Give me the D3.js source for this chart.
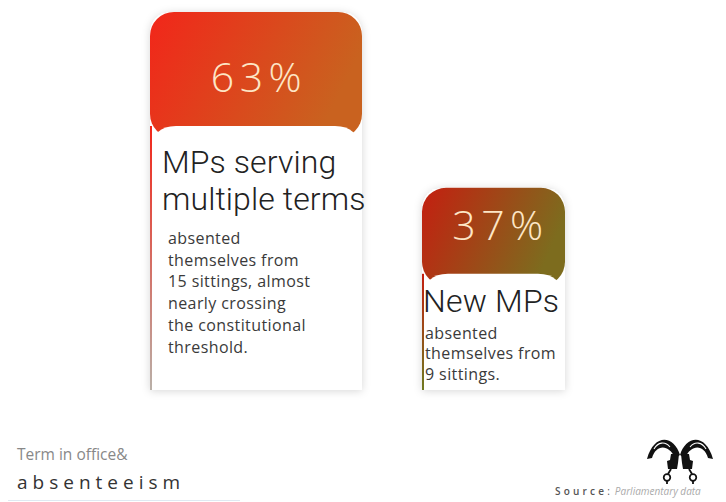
<!DOCTYPE html>
<meta charset="utf-8">
<style>
body { margin: 0; background: #fff; }
svg { display: block; font-family: "Open Sans", "Noto Sans", sans-serif; }
</style>
<svg width="726" height="502"></svg>
<script src="https://d3js.org/d3.v7.min.js"></script>
<script>

// share of absenteeism by term in office
var categories = ["multiple", "new"];
var shares = [63, 37];
var titles = [["MPs serving", "multiple terms"], ["New MPs"]];
var notes = [
	["absented", "themselves from", "15 sittings, almost", "nearly crossing", "the constitutional", "threshold."],
	["absented", "themselves from", "9 sittings."]
];
var gradients = [["#f2261a", "#c9621f"], ["#c41f10", "#7d6c1e"]];

var svg = d3.select("svg"),
	width = +svg.attr("width"),
	height = +svg.attr("height");

var bottom = 390;

// card top follows the value
var y = d3.scaleLinear()
	.domain([0, 63])
	.range([438, 12]);

var w = d3.scaleLinear()
	.domain([37, 63])
	.range([143, 212]);

var head = d3.scaleLinear()
	.domain([37, 63])
	.range([86, 114]);

var defs = svg.append("defs");

var shadow = defs.append("filter")
	.attr("id", "shadow")
	.attr("x", "-20%").attr("y", "-20%")
	.attr("width", "140%").attr("height", "140%");
shadow.append("feDropShadow")
	.attr("dx", 0).attr("dy", 1)
	.attr("stdDeviation", 4)
	.attr("flood-color", "#000")
	.attr("flood-opacity", 0.16);

gradients.forEach(function(c, i) {
	var lg = defs.append("linearGradient")
		.attr("id", "head" + i)
		.attr("x1", "0%").attr("x2", "100%")
		.attr("y1", "0%").attr("y2", "30%");
	lg.append("stop").attr("offset", "0%").attr("stop-color", c[0]);
	lg.append("stop").attr("offset", "100%").attr("stop-color", c[1]);

	var vg = defs.append("linearGradient")
		.attr("id", "edge" + i)
		.attr("x1", "0%").attr("x2", "0%")
		.attr("y1", "0%").attr("y2", "100%");
	vg.append("stop").attr("offset", "0%").attr("stop-color", c[0]);
	vg.append("stop").attr("offset", "100%").attr("stop-color", i ? "#6f7a20" : "#b9b0a8");
});

// x positions: cards sit side by side with a gap
var xs = [];
shares.reduce(function(acc, v) { xs.push(acc); return acc + w(v) + 60; }, 150);

function topRounded(x0, y0, x1, y1, r) {
	return "M" + x0 + "," + y1 +
		"V" + (y0 + r) +
		"Q" + x0 + "," + y0 + " " + (x0 + r) + "," + y0 +
		"H" + (x1 - r) +
		"Q" + x1 + "," + y0 + " " + x1 + "," + (y0 + r) +
		"V" + y1 + "Z";
}

var card = svg.selectAll("g.card")
	.data(shares.map(function(v, i) {
		return {key: categories[i], value: v, i: i, x: xs[i], w: w(v), top: y(v), head: head(v)};
	}))
	.enter().append("g")
	.attr("class", "card");

// soft body behind
card.append("path")
	.attr("filter", "url(#shadow)")
	.attr("fill", "#fff")
	.attr("d", function(d) { return topRounded(d.x, d.top, d.x + d.w, bottom, 24); });

card.append("rect")
	.attr("x", function(d) { return d.x; })
	.attr("y", function(d) { return d.top; })
	.attr("width", function(d) { return d.w; })
	.attr("height", function(d) { return d.head + 12; })
	.attr("rx", 24)
	.attr("fill", function(d) { return "url(#head" + d.i + ")"; });

card.append("rect")
	.attr("x", function(d) { return d.x; })
	.attr("y", function(d) { return d.top + d.head; })
	.attr("width", 2)
	.attr("height", function(d) { return bottom - d.top - d.head; })
	.attr("fill", function(d) { return "url(#edge" + d.i + ")"; });

card.append("path")
	.attr("fill", "#fff")
	.attr("d", function(d) { return topRounded(d.x + 2, d.top + d.head, d.x + d.w - 3, bottom, 24); });

card.append("text")
	.attr("x", function(d) { return d.x + d.w / 2 + (d.i ? 7 : 3); })
	.attr("y", function(d) { return d.top + d.head - 48; })
	.attr("text-anchor", "middle")
	.attr("dy", "0.35em")
	.attr("fill", "#fde6c6")
	.attr("font-weight", 300)
	.attr("font-size", 41)
	.attr("letter-spacing", 5.5)
	.text(function(d) { return d.value + "%"; });

card.each(function(d) {
	var g = d3.select(this);
	var big = d.i === 0;
	var ty = d.top + d.head + (big ? 47 : 38);
	titles[d.i].forEach(function(t, k) {
		g.append("text")
			.attr("fill", "#222")
			.attr("font-family", "Roboto, 'Open Sans', sans-serif")
			.attr("font-weight", 300)
			.attr("font-size", 32)
			.attr("letter-spacing", big ? 0.1 : 0.2)
			.attr("x", d.x + (big ? 12 : 1))
			.attr("y", ty + k * 37)
			.text(t);
	});
	var ny = ty + (titles[d.i].length - 1) * 37 + (big ? 34 : 27);
	var nt = g.append("text")
		.attr("fill", "#3a3a3a")
		.attr("font-size", 16)
		.attr("letter-spacing", 0.4);
	notes[d.i].forEach(function(t, k) {
		nt.append("tspan")
			.attr("x", d.x + (big ? 18 : 3))
			.attr("y", ny + k * (big ? 21.7 : 20.5))
			.text(t);
	});
});

// footer
svg.append("text")
	.attr("x", 17).attr("y", 460)
	.attr("fill", "#888")
	.attr("font-size", 15.5)
	.attr("letter-spacing", 0)
	.text("Term in office&");

svg.append("text")
	.attr("x", 17).attr("y", 489)
	.attr("fill", "#333")
	.attr("font-size", 19)
	.attr("letter-spacing", 5)
	.text("absenteeism");

svg.append("line")
	.attr("x1", 8).attr("x2", 240)
	.attr("y1", 500.5).attr("y2", 500.5)
	.attr("stroke", "#dfe9f2");

var src = svg.append("text")
	.attr("x", 555).attr("y", 495)
	.attr("font-size", 10);
src.append("tspan")
	.attr("fill", "#555")
	.attr("font-weight", 600)
	.attr("letter-spacing", 3.2)
	.text("Source");
src.append("tspan")
	.attr("fill", "#555")
	.attr("dx", 0)
	.text(":");
src.append("tspan")
	.attr("fill", "#aaa")
	.attr("font-style", "italic")
	.attr("dx", 5)
	.text("Parliamentary data");

// logo
var logo = svg.append("g")
	.attr("transform", "translate(680,455)")
	.attr("fill", "#111")
	.attr("stroke", "#111");
[-1, 1].forEach(function(s) {
	var h = logo.append("g").attr("transform", "scale(" + s + ",1)");
	h.append("path")
		.attr("stroke", "none")
		.attr("d", "M0,0 C6,-20 26,-22 33,4 L28,3 C24,-11 11,-11 5,3 Z");
	h.append("path")
		.attr("fill", "none")
		.attr("stroke", "#fff")
		.attr("stroke-width", 1.1)
		.attr("d", "M10,-8 C15,-14 22,-13 26,-6");
	h.append("path")
		.attr("stroke", "none")
		.attr("d", "M1,-1 L9,-1 L10,5 L13,6 L12,14 L3,14 L2,8 Z");
	h.append("path")
		.attr("fill", "none")
		.attr("stroke-width", 1.8)
		.attr("d", "M9,14 L12,19");
	h.append("circle")
		.attr("fill", "none")
		.attr("stroke-width", 1.7)
		.attr("cx", 13).attr("cy", 22.5).attr("r", 3.3);
	h.append("path")
		.attr("fill", "none")
		.attr("stroke-width", 1.8)
		.attr("d", "M13,26 L13,29");
});

</script>
